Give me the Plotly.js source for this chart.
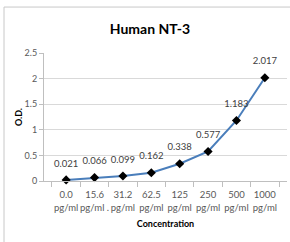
<!DOCTYPE html>
<html><head><meta charset="utf-8">
<script src="https://cdn.plot.ly/plotly-3.0.1.min.js"></script>
<style>html,body{margin:0;padding:0;background:#fff;}#c{width:290px;height:242px;}</style>
</head><body><div id="c"></div>
<script>
const categories = ["0.0<br>pg/ml", "15.6<br>pg/ml .", "31.2<br>pg/ml", "62.5<br>pg/ml", "125<br>pg/ml", "250<br>pg/ml", "500<br>pg/ml", "1000<br>pg/ml"];
const odValues = [0.021, 0.066, 0.099, 0.162, 0.338, 0.577, 1.183, 2.017];
const valueLabels = ["0.021", "0.066", "0.099", "0.162", "0.338", "0.577", "1.183", "2.017"];
const yTicks = [0, 0.5, 1, 1.5, 2, 2.5];
const yTickText = ["0", "0.5", "1", "1.5", "2", "2.5"];

const font = "Lato, 'Open Sans', sans-serif";
const lineTrace = {
  x: categories, y: odValues, type: "scatter", mode: "lines+markers",
  line: {color: "#4a7ebb", width: 2},
  marker: {symbol: "diamond", size: 7, color: "#000"},
  cliponaxis: false, hoverinfo: "none"
};
const labelTrace = {
  x: categories, y: odValues, type: "scatter", mode: "markers+text",
  text: valueLabels, textposition: "top center",
  textfont: {family: font, size: 9.5, color: "#404040"},
  marker: {size: 16, opacity: 0},
  cliponaxis: false, hoverinfo: "none"
};
const layout = {
  width: 290, height: 242,
  margin: {l: 44, r: 3, t: 53, b: 61},
  paper_bgcolor: "#fff", plot_bgcolor: "#fff",
  showlegend: false,
  font: {family: font, size: 9, color: "#595959"},
  title: {text: "<b>Human NT-3</b>", font: {family: font, size: 14, color: "#000"}, x: 0.436, xref: "paper", xanchor: "center", y: 0.88, yanchor: "middle"},
  xaxis: {
    type: "category", showgrid: false, showline: true, linecolor: "#bfbfbf", linewidth: 1,
    ticks: "outside", tickson: "boundaries", ticklen: 5, tickcolor: "#bfbfbf", tickangle: 0,
    ticklabelstandoff: 5,
    tickfont: {family: font, size: 9.5, color: "#595959"},
    title: {text: "<b>Concentration</b>", font: {family: font, size: 9, color: "#000"}, standoff: 8},
    fixedrange: true
  },
  yaxis: {
    range: [0, 2.5], tickvals: yTicks, ticktext: yTickText,
    showgrid: true, gridcolor: "#d9d9d9", gridwidth: 1,
    showline: true, linecolor: "#bfbfbf", linewidth: 1,
    ticks: "outside", ticklen: 4, tickcolor: "#bfbfbf",
    zeroline: false,
    tickfont: {family: font, size: 9, color: "#595959"},
    title: {text: "<b>O.D.</b>", font: {family: font, size: 9, color: "#000"}, standoff: 0},
    fixedrange: true
  },
  shapes: [{type: "rect", xref: "paper", yref: "paper", x0: -0.1646, x1: 1.06, y0: -0.6, y1: 1.359,
            line: {color: "#c8c8c8", width: 1}, fillcolor: "rgba(0,0,0,0)", layer: "below"}]
};
Plotly.newPlot("c", [lineTrace, labelTrace], layout, {staticPlot: true, displayModeBar: false});
</script></body></html>
